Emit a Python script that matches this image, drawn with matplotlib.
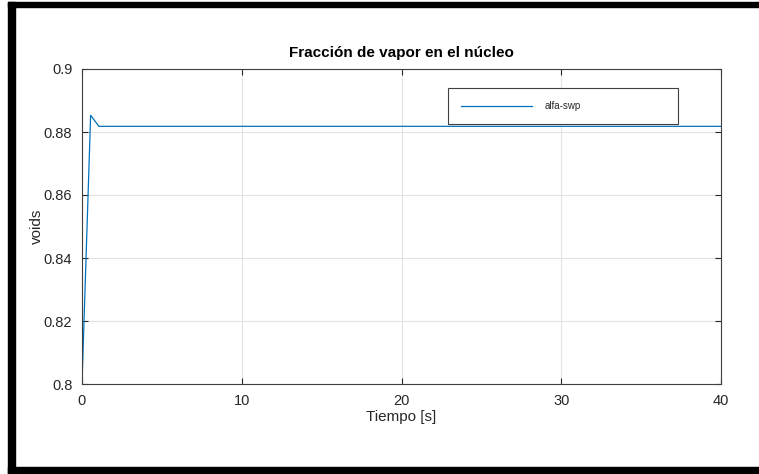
import matplotlib.pyplot as plt
from matplotlib.patches import Rectangle

# Datos
tiempo = [0.0, 0.54, 1.06, 40.0]
alfa_swp = [0.800, 0.8853, 0.8818, 0.8818]
xticks = [0, 10, 20, 30, 40]
yticks = [0.80, 0.82, 0.84, 0.86, 0.88, 0.90]
ytick_labels = ['0.8', '0.82', '0.84', '0.86', '0.88', '0.9']

plt.rcParams['font.family'] = ['Liberation Sans', 'DejaVu Sans']
txt = '#262626'

fig = plt.figure(figsize=(7.59, 4.74), dpi=100)
ax = fig.add_axes([82 / 759, 1 - 384 / 474, 639 / 759, 315 / 474])

ax.plot(tiempo, alfa_swp, color='#0072BD', lw=0.9, label='alfa-swp')

ax.set_xlim(0, 40)
ax.set_ylim(0.8, 0.9)
ax.set_xticks(xticks)
ax.set_yticks(yticks)
ax.set_yticklabels(ytick_labels)
ax.tick_params(direction='in', length=4, width=0.8, colors=txt, labelsize=10.5,
               top=True, right=True, pad=7)
ax.grid(True, color='#e3e3e3', lw=0.8)
ax.set_axisbelow(True)
for s in ax.spines.values():
    s.set_color('#404040')
    s.set_linewidth(0.8)

ax.set_title('Fracción de vapor en el núcleo', fontsize=11, fontweight='bold', pad=9)
ax.set_xlabel('Tiempo [s]', fontsize=11, color=txt, labelpad=2)
ax.set_ylabel('voids', fontsize=11, color=txt, labelpad=0)

leg = ax.legend(loc='center', bbox_to_anchor=(0.565, 0.825, 0.376, 0.115), mode='expand',
                fontsize=7, handlelength=7.3, handletextpad=1.4, borderpad=1.3,
                fancybox=False, framealpha=1, edgecolor='#404040')
leg.get_frame().set_linewidth(0.8)
for t in leg.get_texts():
    t.set_color(txt)

# marco negro alrededor de la figura
W, H = 759, 474
fig.patches.append(Rectangle((8 / W, 0), 7 / W, 1 - 2 / H, transform=fig.transFigure,
                             color='black', zorder=10))
fig.patches.append(Rectangle((8 / W, 1 - 7 / H), 1, 5 / H, transform=fig.transFigure,
                             color='black', zorder=10))
fig.patches.append(Rectangle((8 / W, 0), 1, 7 / H, transform=fig.transFigure,
                             color='black', zorder=10))

fig.savefig('out.png', dpi=100)
